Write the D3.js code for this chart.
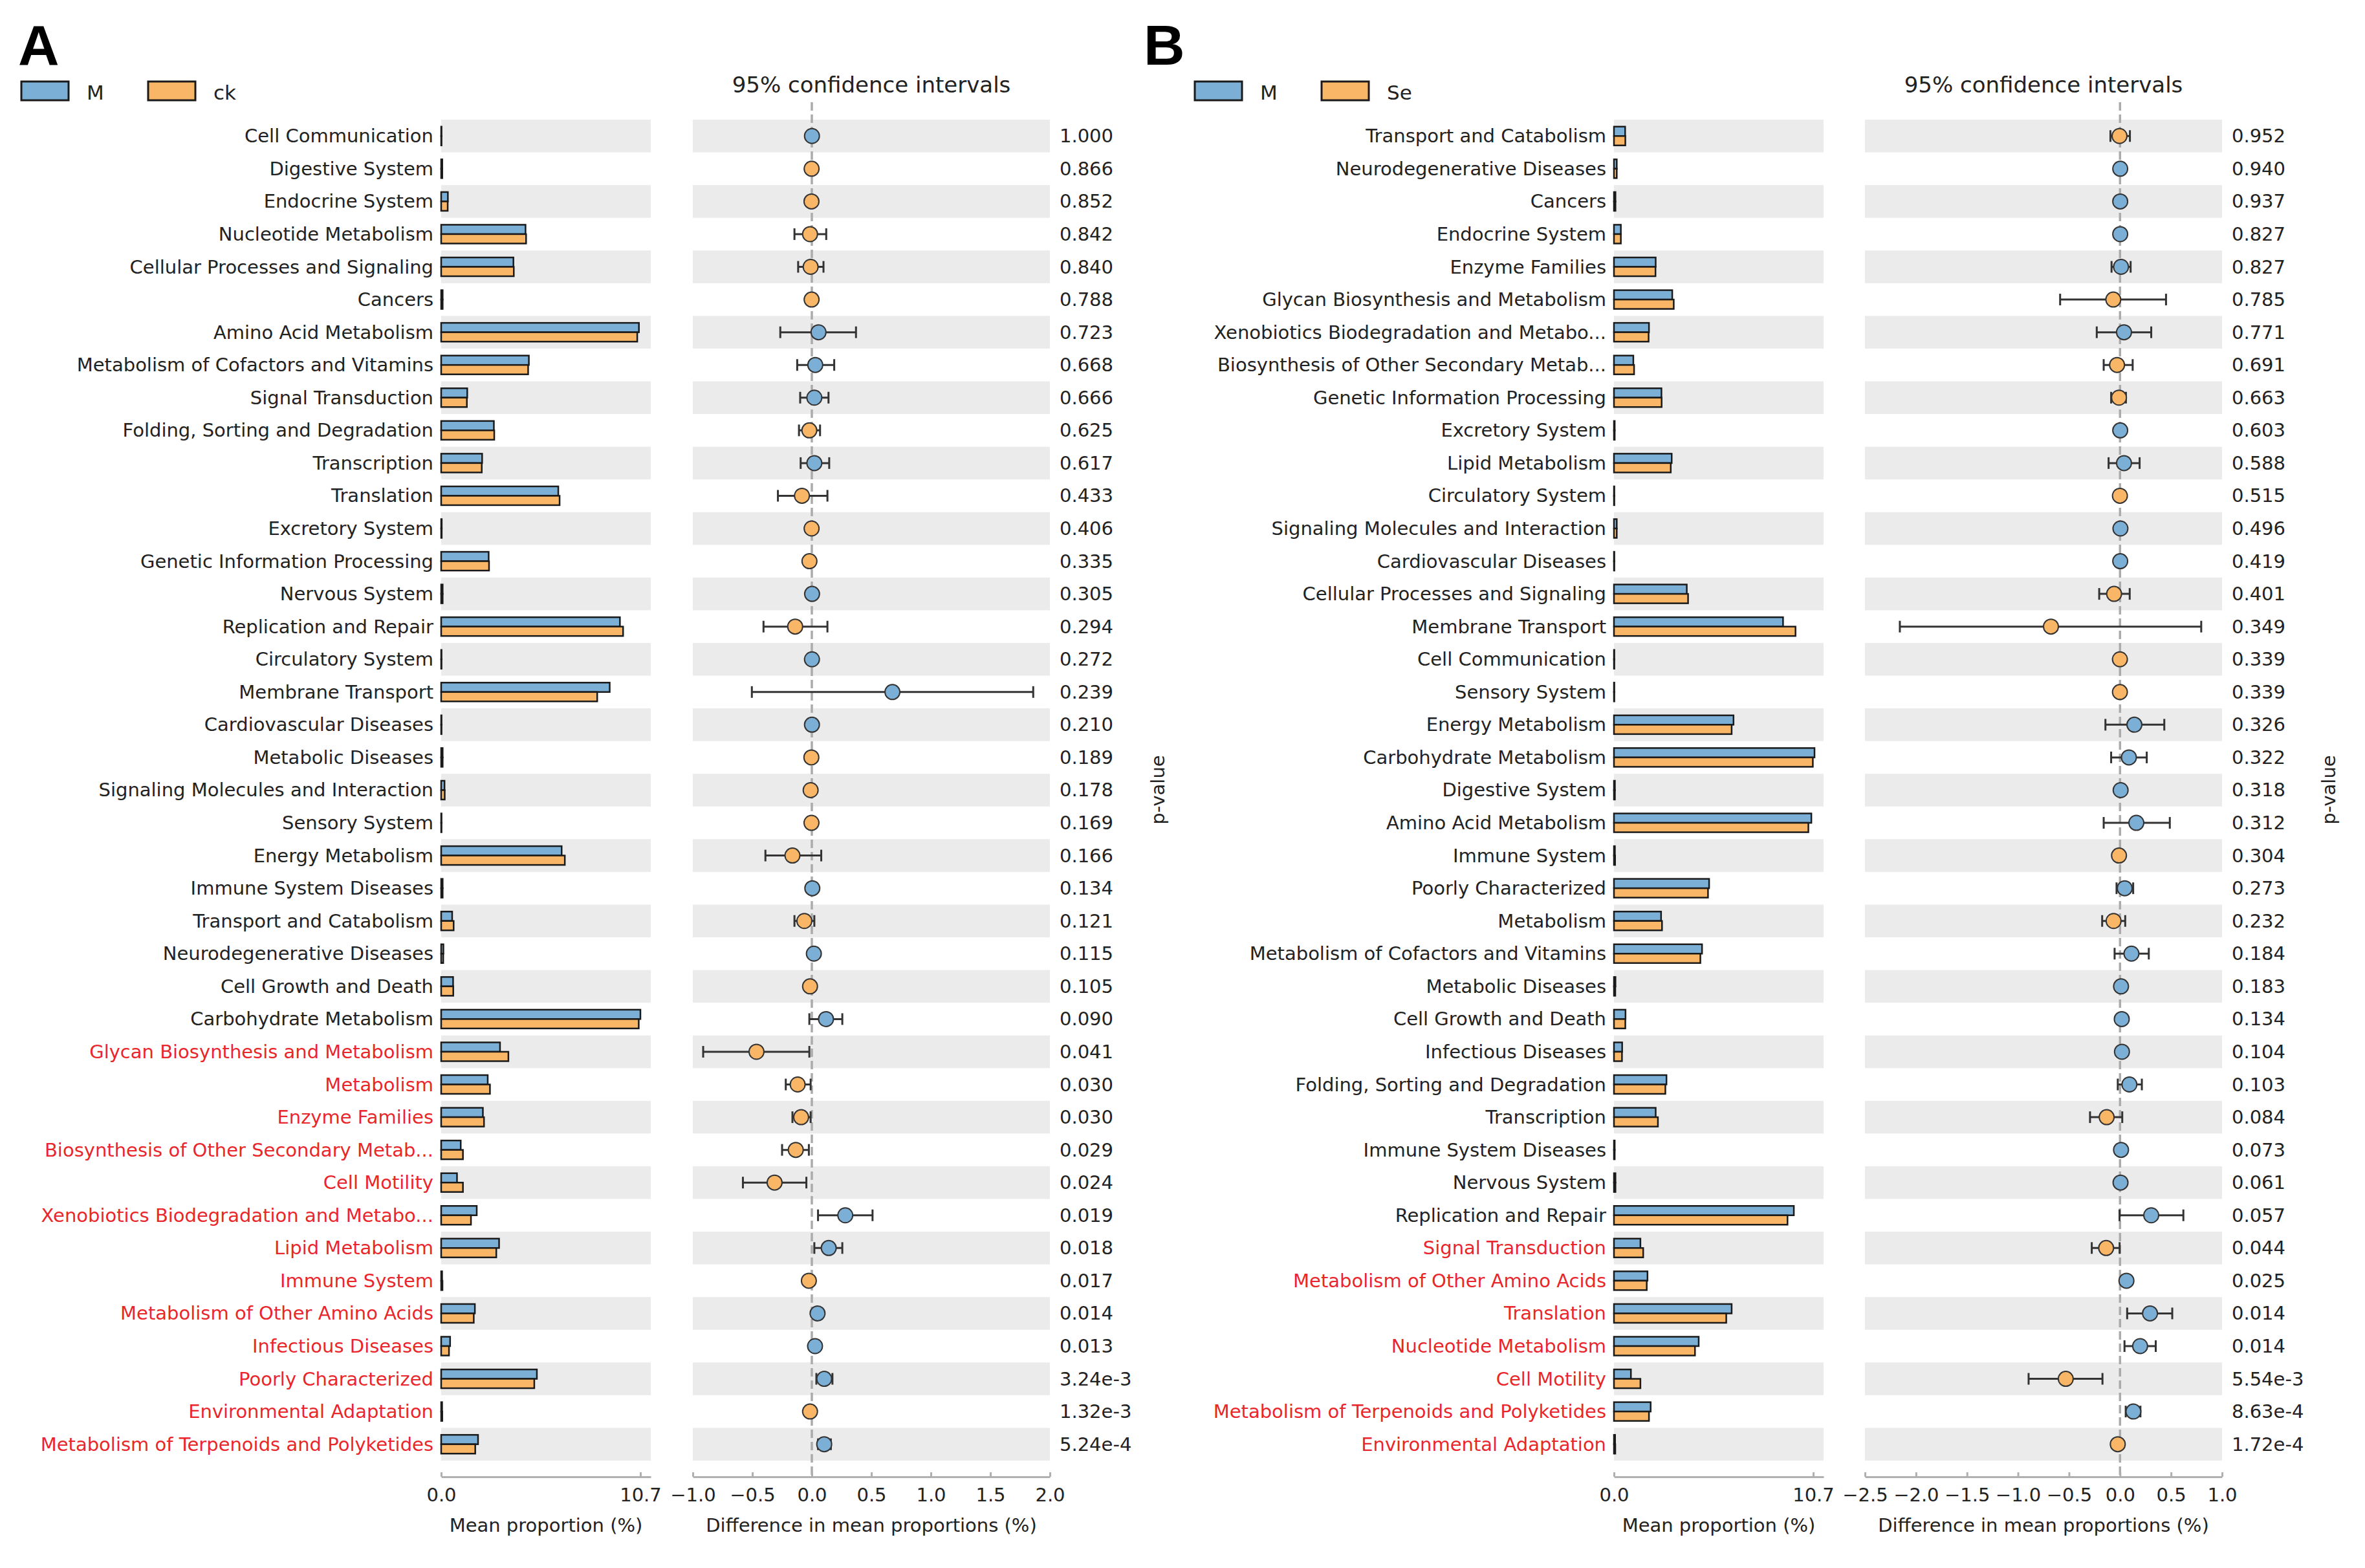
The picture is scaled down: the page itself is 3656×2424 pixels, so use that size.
<!DOCTYPE html>
<html><head><meta charset="utf-8">
<script src="https://cdn.jsdelivr.net/npm/d3@7"></script>
<style>body{margin:0;background:#fff}</style>
</head><body><div id="chart"></div>
<script>
// ---------------- Panel A : M vs ck ----------------
const categoriesA = ["Cell Communication","Digestive System","Endocrine System","Nucleotide Metabolism","Cellular Processes and Signaling","Cancers","Amino Acid Metabolism","Metabolism of Cofactors and Vitamins","Signal Transduction","Folding, Sorting and Degradation","Transcription","Translation","Excretory System","Genetic Information Processing","Nervous System","Replication and Repair","Circulatory System","Membrane Transport","Cardiovascular Diseases","Metabolic Diseases","Signaling Molecules and Interaction","Sensory System","Energy Metabolism","Immune System Diseases","Transport and Catabolism","Neurodegenerative Diseases","Cell Growth and Death","Carbohydrate Metabolism","Glycan Biosynthesis and Metabolism","Metabolism","Enzyme Families","Biosynthesis of Other Secondary Metab...","Cell Motility","Xenobiotics Biodegradation and Metabo...","Lipid Metabolism","Immune System","Metabolism of Other Amino Acids","Infectious Diseases","Poorly Characterized","Environmental Adaptation","Metabolism of Terpenoids and Polyketides"];
const pValuesA = ["1.000","0.866","0.852","0.842","0.840","0.788","0.723","0.668","0.666","0.625","0.617","0.433","0.406","0.335","0.305","0.294","0.272","0.239","0.210","0.189","0.178","0.169","0.166","0.134","0.121","0.115","0.105","0.090","0.041","0.030","0.030","0.029","0.024","0.019","0.018","0.017","0.014","0.013","3.24e-3","1.32e-3","5.24e-4"];
const meanMA  = [0.02,0.06,0.36,4.53,3.88,0.08,10.62,4.71,1.40,2.83,2.20,6.29,0.03,2.55,0.08,9.60,0.02,9.05,0.02,0.08,0.18,0.02,6.47,0.08,0.59,0.12,0.64,10.70,3.16,2.50,2.24,1.05,0.85,1.91,3.11,0.05,1.81,0.48,5.14,0.05,1.98];
const meanCkA = [0.02,0.06,0.35,4.56,3.90,0.08,10.53,4.67,1.38,2.85,2.18,6.36,0.03,2.57,0.08,9.77,0.02,8.38,0.02,0.08,0.19,0.02,6.64,0.08,0.67,0.11,0.65,10.61,3.61,2.62,2.30,1.17,1.17,1.60,2.96,0.07,1.75,0.42,5.00,0.06,1.83];
const diffA = [0.001,-0.002,-0.003,-0.015,-0.010,-0.002,0.056,0.029,0.021,-0.021,0.021,-0.083,-0.002,-0.020,0.002,-0.140,0.001,0.677,0.001,-0.004,-0.010,-0.003,-0.163,0.004,-0.063,0.017,-0.015,0.119,-0.465,-0.119,-0.090,-0.135,-0.313,0.281,0.142,-0.025,0.048,0.027,0.104,-0.015,0.104];
const ciLowA  = [-0.004,-0.006,-0.020,-0.146,-0.115,-0.008,-0.265,-0.123,-0.098,-0.108,-0.094,-0.285,-0.008,-0.045,-0.003,-0.406,-0.003,-0.504,-0.002,-0.010,-0.025,-0.008,-0.390,-0.002,-0.146,-0.005,-0.040,-0.021,-0.913,-0.219,-0.163,-0.250,-0.579,0.052,0.021,-0.040,0.030,0.010,0.038,-0.022,0.052];
const ciHighA = [0.006,0.003,0.015,0.121,0.098,0.005,0.371,0.188,0.140,0.069,0.146,0.131,0.004,0.005,0.007,0.131,0.005,1.860,0.004,0.002,0.005,0.002,0.079,0.010,0.021,0.040,0.010,0.256,-0.021,-0.010,-0.010,-0.025,-0.046,0.510,0.256,-0.010,0.066,0.044,0.173,-0.008,0.160];
const barTicksA = [0, 10.7];
const ciTicksA = [-1.0,-0.5,0.0,0.5,1.0,1.5,2.0];

// ---------------- Panel B : M vs Se ----------------
const categoriesB = ["Transport and Catabolism","Neurodegenerative Diseases","Cancers","Endocrine System","Enzyme Families","Glycan Biosynthesis and Metabolism","Xenobiotics Biodegradation and Metabo...","Biosynthesis of Other Secondary Metab...","Genetic Information Processing","Excretory System","Lipid Metabolism","Circulatory System","Signaling Molecules and Interaction","Cardiovascular Diseases","Cellular Processes and Signaling","Membrane Transport","Cell Communication","Sensory System","Energy Metabolism","Carbohydrate Metabolism","Digestive System","Amino Acid Metabolism","Immune System","Poorly Characterized","Metabolism","Metabolism of Cofactors and Vitamins","Metabolic Diseases","Cell Growth and Death","Infectious Diseases","Folding, Sorting and Degradation","Transcription","Immune System Diseases","Nervous System","Replication and Repair","Signal Transduction","Metabolism of Other Amino Acids","Translation","Nucleotide Metabolism","Cell Motility","Metabolism of Terpenoids and Polyketides","Environmental Adaptation"];
const pValuesB = ["0.952","0.940","0.937","0.827","0.827","0.785","0.771","0.691","0.663","0.603","0.588","0.515","0.496","0.419","0.401","0.349","0.339","0.339","0.326","0.322","0.318","0.312","0.304","0.273","0.232","0.184","0.183","0.134","0.104","0.103","0.084","0.073","0.061","0.057","0.044","0.025","0.014","0.014","5.54e-3","8.63e-4","1.72e-4"];
const meanMB  = [0.60,0.15,0.08,0.37,2.24,3.13,1.88,1.04,2.55,0.04,3.10,0.02,0.15,0.02,3.91,9.08,0.02,0.02,6.42,10.77,0.05,10.60,0.05,5.11,2.53,4.73,0.08,0.62,0.44,2.82,2.24,0.04,0.08,9.66,1.42,1.80,6.32,4.55,0.91,1.97,0.06];
const meanSeB = [0.61,0.15,0.08,0.37,2.23,3.21,1.86,1.08,2.56,0.04,3.05,0.02,0.15,0.02,3.98,9.75,0.02,0.02,6.32,10.68,0.05,10.44,0.06,5.05,2.58,4.64,0.07,0.61,0.43,2.76,2.36,0.04,0.08,9.32,1.57,1.76,6.03,4.35,1.42,1.88,0.07];
const diffB = [-0.005,0.002,0.002,0.002,0.010,-0.066,0.039,-0.029,-0.010,0.002,0.039,-0.001,0.004,0.002,-0.058,-0.677,-0.001,-0.001,0.141,0.087,0.006,0.160,-0.010,0.046,-0.063,0.112,0.010,0.017,0.019,0.092,-0.131,0.010,0.005,0.306,-0.136,0.063,0.294,0.197,-0.532,0.131,-0.022];
const ciLowB  = [-0.094,-0.004,-0.003,-0.015,-0.083,-0.587,-0.228,-0.160,-0.087,-0.003,-0.112,-0.005,-0.003,-0.002,-0.204,-2.158,-0.004,-0.004,-0.143,-0.087,-0.003,-0.160,-0.020,-0.034,-0.175,-0.053,-0.002,-0.005,-0.003,-0.022,-0.294,-0.002,-0.003,-0.005,-0.277,0.040,0.070,0.044,-0.896,0.056,-0.030];
const ciHighB = [0.097,0.008,0.007,0.020,0.104,0.451,0.306,0.124,0.058,0.007,0.192,0.003,0.011,0.006,0.095,0.796,0.002,0.002,0.434,0.262,0.015,0.488,0.000,0.129,0.051,0.282,0.022,0.040,0.040,0.214,0.022,0.020,0.013,0.621,-0.004,0.087,0.512,0.350,-0.172,0.200,-0.012];
const barTicksB = [0, 10.7];
const ciTicksB = [-2.5,-2.0,-1.5,-1.0,-0.5,0.0,0.5,1.0];

// ---------------- drawing ----------------
const W = 3656, H = 2424;
const FONT = "'DejaVu Sans', 'Liberation Sans', sans-serif";
const BLUE = "#7bafd6", ORANGE = "#f9b666", EDGE = "#1a1a1a", BAND = "#ebebeb", RED = "#e8262b", AXIS = "#b0b0b0";
const svg = d3.select("#chart").append("svg").attr("width", W).attr("height", H)
  .style("font-family", FONT);
svg.append("rect").attr("width", W).attr("height", H).attr("fill", "#fff");

const ROW_TOP = 185, ROW_H = 50.56, AXIS_Y = 2283;

function drawPanel(cfg) {
  const g = svg.append("g");
  const n = cfg.cats.length;
  const y = d3.scaleBand().domain(d3.range(n)).range([ROW_TOP, ROW_TOP + ROW_H * n]);
  const cy = i => y(i) + y.bandwidth() / 2;
  const barW = 324;
  const xb = d3.scaleLinear().domain([0, cfg.barTicks[1] * barW / 308]).range([cfg.barX0, cfg.barX0 + barW]);
  const xc = d3.scaleLinear().domain(d3.extent(cfg.ciTicks)).range([cfg.ciX0, cfg.ciX1]);
  const idx = d3.range(n);

  // panel letter + legend
  g.append("text").attr("x", cfg.letterX).attr("y", 100).attr("font-size", 88).attr("font-weight", "bold")
    .attr("font-family", "'Liberation Sans', Arial, sans-serif").attr("fill", "#000").text(cfg.letter);
  const legend = [{c: BLUE, t: "M"}, {c: ORANGE, t: cfg.group2}];
  legend.forEach((d, k) => {
    const lx = cfg.legendX + k * 196;
    g.append("rect").attr("x", lx).attr("y", 126).attr("width", 73).attr("height", 29)
      .attr("fill", d.c).attr("stroke", EDGE).attr("stroke-width", 3);
    g.append("text").attr("x", lx + 101).attr("y", 154).attr("font-size", 31).attr("fill", "#222").text(d.t);
  });

  // CI title
  g.append("text").attr("x", (cfg.ciX0 + cfg.ciX1) / 2).attr("y", 143).attr("text-anchor", "middle")
    .attr("font-size", 34).attr("fill", "#222").text("95% confidence intervals");

  // row bands
  const grey = idx.filter(i => i % 2 === 0);
  g.selectAll(".bandL").data(grey).join("rect")
    .attr("x", xb.range()[0]).attr("width", barW).attr("y", i => y(i)).attr("height", y.bandwidth()).attr("fill", BAND);
  g.selectAll(".bandR").data(grey).join("rect")
    .attr("x", cfg.ciX0).attr("width", cfg.ciX1 - cfg.ciX0).attr("y", i => y(i)).attr("height", y.bandwidth()).attr("fill", BAND);

  // category labels
  g.selectAll(".lab").data(idx).join("text")
    .attr("x", cfg.labelRight).attr("y", i => cy(i)).attr("dominant-baseline", "central")
    .attr("text-anchor", "end").attr("font-size", 29)
    .attr("fill", i => (+cfg.p[i] < 0.05 ? RED : "#222"))
    .text(i => cfg.cats[i]);

  // bars
  const bh = 14.5;
  g.selectAll(".barM").data(idx).join("rect")
    .attr("x", xb(0)).attr("y", i => cy(i) - bh).attr("height", bh)
    .attr("width", i => xb(cfg.m[i]) - xb(0))
    .attr("fill", BLUE).attr("stroke", EDGE).attr("stroke-width", 2.5);
  g.selectAll(".barG").data(idx).join("rect")
    .attr("x", xb(0)).attr("y", i => cy(i)).attr("height", bh)
    .attr("width", i => xb(cfg.g2[i]) - xb(0))
    .attr("fill", ORANGE).attr("stroke", EDGE).attr("stroke-width", 2.5);

  // zero dashed line
  g.append("line").attr("x1", xc(0)).attr("x2", xc(0)).attr("y1", 158).attr("y2", AXIS_Y)
    .attr("stroke", "#ababab").attr("stroke-width", 3.5).attr("stroke-dasharray", "13,6");

  // error bars
  g.selectAll(".err").data(idx).join("line")
    .attr("x1", i => xc(cfg.lo[i])).attr("x2", i => xc(cfg.hi[i]))
    .attr("y1", i => cy(i)).attr("y2", i => cy(i))
    .attr("stroke", "#333").attr("stroke-width", 3);
  ["lo", "hi"].forEach(key => {
    g.selectAll(".cap" + key).data(idx).join("line")
      .attr("x1", i => xc(cfg[key][i])).attr("x2", i => xc(cfg[key][i]))
      .attr("y1", i => cy(i) - 9).attr("y2", i => cy(i) + 9)
      .attr("stroke", "#333").attr("stroke-width", 3);
  });
  g.selectAll(".dot").data(idx).join("circle")
    .attr("cx", i => xc(cfg.diff[i])).attr("cy", i => cy(i)).attr("r", 11.5)
    .attr("fill", i => (cfg.diff[i] > 0 ? BLUE : ORANGE))
    .attr("stroke", "#333").attr("stroke-width", 2);

  // p-values
  g.selectAll(".pv").data(idx).join("text")
    .attr("x", cfg.pX).attr("y", i => cy(i)).attr("dominant-baseline", "central")
    .attr("font-size", 29).attr("fill", "#222").text(i => cfg.p[i]);
  g.append("text").attr("transform", `translate(${cfg.pLabelX},1221) rotate(-90)`)
    .attr("text-anchor", "middle").attr("dominant-baseline", "central")
    .attr("font-size", 29).attr("fill", "#222").text("p-value");

  // axes
  const styleAxis = sel => {
    sel.attr("font-family", FONT).attr("font-size", 29);
    sel.select(".domain").attr("stroke", AXIS).attr("stroke-width", 3);
    sel.selectAll(".tick line").attr("stroke", AXIS).attr("stroke-width", 3);
    sel.selectAll(".tick text").attr("fill", "#222");
  };
  g.append("g").attr("transform", `translate(0,${AXIS_Y})`)
    .call(d3.axisBottom(xb).tickValues(cfg.barTicks).tickFormat(d3.format(".1f")).tickSize(-7).tickSizeOuter(0).tickPadding(17))
    .call(styleAxis);
  g.append("g").attr("transform", `translate(0,${AXIS_Y})`)
    .call(d3.axisBottom(xc).tickValues(cfg.ciTicks).tickFormat(d3.format(".1f")).tickSize(-7).tickSizeOuter(0).tickPadding(17))
    .call(styleAxis);

  g.append("text").attr("x", (xb.range()[0] + xb.range()[1]) / 2).attr("y", 2368).attr("text-anchor", "middle")
    .attr("font-size", 29).attr("fill", "#222").text("Mean proportion (%)");
  g.append("text").attr("x", (cfg.ciX0 + cfg.ciX1) / 2).attr("y", 2368).attr("text-anchor", "middle")
    .attr("font-size", 29).attr("fill", "#222").text("Difference in mean proportions (%)");
}

drawPanel({
  letter: "A", letterX: 28, legendX: 33, group2: "ck",
  cats: categoriesA, p: pValuesA, m: meanMA, g2: meanCkA, diff: diffA, lo: ciLowA, hi: ciHighA,
  barTicks: barTicksA, ciTicks: ciTicksA,
  labelRight: 670, barX0: 682, ciX0: 1071, ciX1: 1623, pX: 1638, pLabelX: 1790
});
drawPanel({
  letter: "B", letterX: 1768, legendX: 1847, group2: "Se",
  cats: categoriesB, p: pValuesB, m: meanMB, g2: meanSeB, diff: diffB, lo: ciLowB, hi: ciHighB,
  barTicks: barTicksB, ciTicks: ciTicksB,
  labelRight: 2483, barX0: 2495, ciX0: 2883, ciX1: 3435, pX: 3450, pLabelX: 3600
});
</script>
</body></html>
